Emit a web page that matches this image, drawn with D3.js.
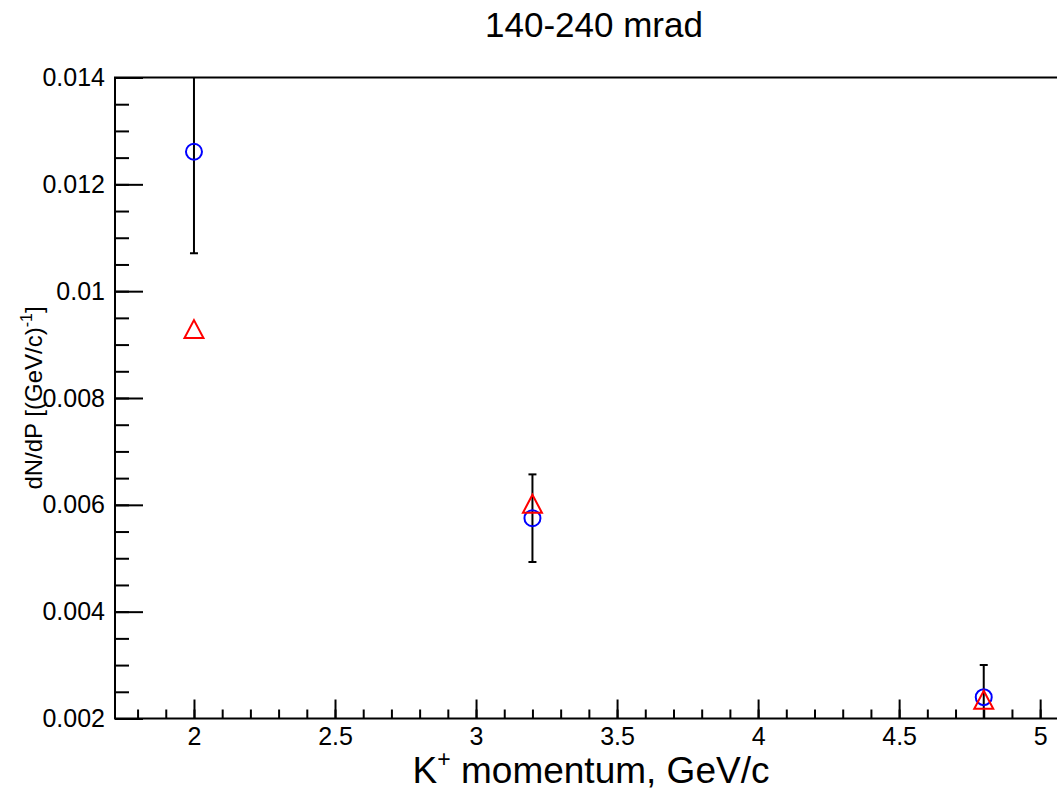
<!DOCTYPE html>
<html>
<head>
<meta charset="utf-8">
<script src="https://cdn.jsdelivr.net/npm/d3@7"></script>
<style>
  html, body { margin: 0; padding: 0; background: #fff; }
  svg { display: block; }
  text { font-family: "Liberation Sans", Arial, Helvetica, sans-serif; fill: #000; }
</style>
</head>
<body>
<svg id="chart" width="1057" height="792"></svg>
<script>
// Kaon momentum points (GeV/c)
const momentum = [2.0, 3.2, 4.8];
// Measured dN/dP with statistical errors
const dataValues = [0.01261, 0.00575, 0.00240];
const dataErrors = [0.0019, 0.00082, 0.0006];
// Model prediction at the same momenta
const modelValues = [0.00929, 0.00602, 0.00235];

const xMajorTicks = [2, 2.5, 3, 3.5, 4, 4.5, 5];
const yMajorTicks = [0.002, 0.004, 0.006, 0.008, 0.01, 0.012, 0.014];

const titleText = "140-240 mrad";

const svg = d3.select("#chart");
const frame = { left: 115, right: 1074, top: 77.5, bottom: 718.5 };

const x = d3.scaleLinear().domain([1.72, 5.12]).range([frame.left, frame.right]);
const y = d3.scaleLinear().domain([0.002, 0.014]).range([frame.bottom, frame.top]);

// clip region for the data
svg.append("defs").append("clipPath").attr("id", "plotClip")
  .append("rect")
  .attr("x", frame.left).attr("y", frame.top)
  .attr("width", frame.right - frame.left).attr("height", frame.bottom - frame.top);

// frame
svg.append("rect")
  .attr("x", frame.left).attr("y", frame.top)
  .attr("width", frame.right - frame.left).attr("height", frame.bottom - frame.top)
  .attr("fill", "none").attr("stroke", "#000").attr("stroke-width", 2);

// x axis: ticks pointing inward (up)
const xMinor = d3.range(18, 51).map(d => d / 10).filter(v => x(v) <= frame.right);
const xAxisMinor = d3.axisBottom(x).tickValues(xMinor).tickSize(-9).tickFormat("");
const xAxisMajor = d3.axisBottom(x).tickValues(xMajorTicks).tickSize(-19)
  .tickFormat(d3.format("~g"));

const gxMinor = svg.append("g").attr("transform", `translate(0,${frame.bottom})`).call(xAxisMinor);
const gx = svg.append("g").attr("transform", `translate(0,${frame.bottom})`).call(xAxisMajor);
[gxMinor, gx].forEach(g => {
  g.select(".domain").remove();
  g.selectAll(".tick line").attr("stroke", "#000").attr("stroke-width", 2);
});
gx.selectAll(".tick text")
  .attr("y", 26).attr("dy", null)
  .style("font-size", "25px").style("font-family", "Liberation Sans, Arial, sans-serif");

// y axis: ticks pointing inward (right)
const yMinor = d3.range(4, 29).map(d => d * 0.0005);
const yAxisMinor = d3.axisLeft(y).tickValues(yMinor).tickSize(-14).tickFormat("");
const yAxisMajor = d3.axisLeft(y).tickValues(yMajorTicks).tickSize(-28)
  .tickFormat(d3.format("~g"));

const gyMinor = svg.append("g").attr("transform", `translate(${frame.left},0)`).call(yAxisMinor);
const gy = svg.append("g").attr("transform", `translate(${frame.left},0)`).call(yAxisMajor);
[gyMinor, gy].forEach(g => {
  g.select(".domain").remove();
  g.selectAll(".tick line").attr("stroke", "#000").attr("stroke-width", 2);
});
gy.selectAll(".tick text")
  .attr("x", -10)
  .style("font-size", "25px").style("font-family", "Liberation Sans, Arial, sans-serif");

// data layer
const plot = svg.append("g").attr("clip-path", "url(#plotClip)");

const points = momentum.map((m, i) => ({
  m, v: dataValues[i], e: dataErrors[i], model: modelValues[i]
}));

// error bars
const capHalf = 4;
const eb = plot.append("g").attr("stroke", "#000").attr("stroke-width", 2);
points.forEach(p => {
  eb.append("line")
    .attr("x1", x(p.m)).attr("x2", x(p.m))
    .attr("y1", y(p.v + p.e)).attr("y2", y(p.v - p.e));
  [p.v + p.e, p.v - p.e].forEach(val => {
    eb.append("line")
      .attr("x1", x(p.m) - capHalf).attr("x2", x(p.m) + capHalf)
      .attr("y1", y(val)).attr("y2", y(val));
  });
});

// measured points: open blue circles
plot.append("g").selectAll("circle")
  .data(points).join("circle")
  .attr("cx", d => x(d.m)).attr("cy", d => y(d.v)).attr("r", 8)
  .attr("fill", "none").attr("stroke", "#0000ff").attr("stroke-width", 2);

// model points: open red triangles
const triHalfW = 9.5, triHalfH = 9;
plot.append("g").selectAll("path")
  .data(points).join("path")
  .attr("d", d => {
    const cx = x(d.m), cy = y(d.model);
    return `M${cx},${cy - triHalfH}L${cx + triHalfW},${cy + triHalfH}L${cx - triHalfW},${cy + triHalfH}Z`;
  })
  .attr("fill", "none").attr("stroke", "#ff0000").attr("stroke-width", 2)
  .attr("stroke-linejoin", "miter");

// title
svg.append("text")
  .attr("x", 594).attr("y", 37)
  .attr("text-anchor", "middle")
  .style("font-size", "35px")
  .text(titleText);

// x axis title
const xt = svg.append("text")
  .attr("x", 591).attr("y", 783)
  .attr("text-anchor", "middle")
  .style("font-size", "37px");
xt.append("tspan").text("K");
xt.append("tspan").attr("dy", -16).style("font-size", "23px").text("+");
xt.append("tspan").attr("dy", 16).text(" momentum, GeV/c");

// y axis title
const yt = svg.append("text")
  .attr("transform", `translate(42,${(frame.top + frame.bottom) / 2}) rotate(-90)`)
  .attr("text-anchor", "middle")
  .style("font-size", "24px");
yt.append("tspan").text("dN/dP [(GeV/c)");
yt.append("tspan").attr("dy", -10).style("font-size", "16px").text("-1");
yt.append("tspan").attr("dy", 10).text("]");
</script>
</body>
</html>
